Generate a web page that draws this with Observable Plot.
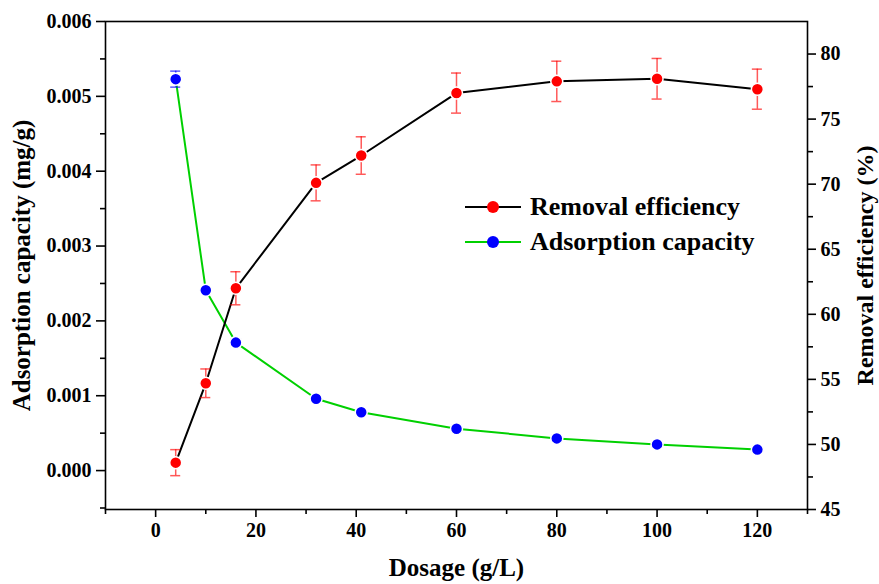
<!DOCTYPE html>
<html><head><meta charset="utf-8">
<script src="https://cdn.jsdelivr.net/npm/d3@7"></script>
<script src="https://cdn.jsdelivr.net/npm/@observablehq/plot@0.6"></script>
<style>
body{margin:0;background:#fff;}
#chart{position:relative;width:879px;height:584px;}
</style>
</head><body><div id="chart"></div>
<script>
// ---- data ----
const dosage = [4, 10, 16, 32, 41, 60, 80, 100, 120];
const adsorption = [0.00523, 0.00241, 0.00171, 0.00096, 0.00078, 0.00056, 0.00043, 0.00035, 0.00028];
const adsorptionErr = [0.000107, 0, 0, 0, 0, 0, 0, 0, 0];
const removal = [48.6, 54.7, 62.0, 70.1, 72.2, 77.0, 77.9, 78.1, 77.3];
const removalErr = [1.0, 1.1, 1.27, 1.38, 1.44, 1.54, 1.55, 1.56, 1.54];
const xTicks = [0, 20, 40, 60, 80, 100, 120];
const xMinor = [-10, 10, 30, 50, 70, 90, 110, 130];
const leftTicks = [0, 0.001, 0.002, 0.003, 0.004, 0.005, 0.006];
const leftMinor = [-0.0005, 0.0005, 0.0015, 0.0025, 0.0035, 0.0045, 0.0055];
const rightTicks = [45, 50, 55, 60, 65, 70, 75, 80];
const rightMinor = [47.5, 52.5, 57.5, 62.5, 67.5, 72.5, 77.5];
const seriesNames = ["Removal efficiency", "Adsorption capacity"];
const xLabel = "Dosage (g/L)";
const leftLabel = "Adsorption capacity (mg/g)";
const rightLabel = "Removal efficiency (%)";

// ---- scales ----
const Y0 = -0.00052, Y1 = 0.006, R0 = 45, R1 = 82.5;
const toLeft = r => Y0 + (r - R0) / (R1 - R0) * (Y1 - Y0);
const fromLeft = v => R0 + (v - Y0) / (Y1 - Y0) * (R1 - R0);

const ads = dosage.map((x, i) => ({x, y: adsorption[i], lo: adsorption[i] - adsorptionErr[i], hi: adsorption[i] + adsorptionErr[i]}));
const rem = dosage.map((x, i) => ({x, y: toLeft(removal[i]), lo: toLeft(removal[i] - removalErr[i]), hi: toLeft(removal[i] + removalErr[i])}));
const adsErr = ads.filter(d => d.hi > d.lo);

const RED = "#ff0000", BLUE = "#0000ff", GREEN = "#00d000";
const RED_ERR = "rgba(255,0,0,0.65)", BLUE_ERR = "rgba(0,0,255,0.65)";
const SW = 1.6;
const FONT = "Liberation Serif, Times New Roman, serif";

const chart = Plot.plot({
  width: 879, height: 584,
  marginTop: 21, marginBottom: 75, marginLeft: 105, marginRight: 72,
  style: {fontFamily: FONT, fontWeight: "bold", fontSize: "20px", background: "white", color: "black"},
  x: {domain: [-10, 130]},
  y: {domain: [Y0, Y1]},
  marks: [
    Plot.axisX(xTicks, {tickSize: 8, tickPadding: 5, fontSize: 20, strokeWidth: SW, label: null}),
    Plot.axisX(xMinor, {tickSize: 5, text: null, strokeWidth: SW, label: null}),
    Plot.axisY(leftTicks, {anchor: "left", tickSize: 9, tickPadding: 5, fontSize: 20, strokeWidth: SW, tickFormat: d3.format(".3f"), label: null}),
    Plot.axisY(leftMinor, {anchor: "left", tickSize: 5, text: null, strokeWidth: SW, label: null}),
    Plot.axisY(rightTicks.map(toLeft), {anchor: "right", tickSize: 8, tickPadding: 5, fontSize: 20, strokeWidth: SW, tickFormat: v => String(Math.round(fromLeft(v))), label: null}),
    Plot.axisY(rightMinor.map(toLeft), {anchor: "right", tickSize: 5, text: null, strokeWidth: SW, label: null}),
    Plot.frame({stroke: "black", strokeWidth: SW}),
    Plot.text([xLabel], {frameAnchor: "bottom", dy: 66, fontSize: 25, fontWeight: "bold", textAnchor: "middle"}),
    Plot.text([leftLabel], {frameAnchor: "left", dx: -84, rotate: -90, fontSize: 25, fontWeight: "bold", textAnchor: "middle"}),
    Plot.text([rightLabel], {frameAnchor: "right", dx: 58, rotate: -90, fontSize: 24, fontWeight: "bold", textAnchor: "middle"}),
    Plot.line(ads, {x: "x", y: "y", stroke: GREEN, strokeWidth: 2}),
    Plot.line(rem, {x: "x", y: "y", stroke: "black", strokeWidth: 2}),
    Plot.ruleX(rem, {x: "x", y1: "lo", y2: "hi", stroke: RED_ERR, strokeWidth: 1.5}),
    Plot.ruleY(rem, {y: "lo", x1: d => d.x - 1, x2: d => d.x + 1, stroke: RED_ERR, strokeWidth: 1.5}),
    Plot.ruleY(rem, {y: "hi", x1: d => d.x - 1, x2: d => d.x + 1, stroke: RED_ERR, strokeWidth: 1.5}),
    Plot.ruleX(adsErr, {x: "x", y1: "lo", y2: "hi", stroke: BLUE_ERR, strokeWidth: 1.5}),
    Plot.ruleY(adsErr, {y: "lo", x1: d => d.x - 1, x2: d => d.x + 1, stroke: BLUE_ERR, strokeWidth: 1.5}),
    Plot.ruleY(adsErr, {y: "hi", x1: d => d.x - 1, x2: d => d.x + 1, stroke: BLUE_ERR, strokeWidth: 1.5}),
    Plot.dot(ads, {x: "x", y: "y", r: 6, fill: BLUE, stroke: "white", strokeWidth: 1.5}),
    Plot.dot(rem, {x: "x", y: "y", r: 6, fill: RED, stroke: "white", strokeWidth: 1.5})
  ]
});
document.getElementById("chart").appendChild(chart);

// ---- legend (inside the plot area) ----
const svg = d3.select(chart);
const lg = svg.append("g")
  .attr("font-family", FONT).attr("font-weight", "bold").attr("font-size", 26)
  .attr("text-anchor", "start");
const legendItems = [
  {name: seriesNames[0], line: "black", dot: RED},
  {name: seriesNames[1], line: GREEN, dot: BLUE}
];
legendItems.forEach((it, i) => {
  const cy = 207 + i * 35;
  lg.append("line").attr("x1", 465).attr("x2", 521).attr("y1", cy).attr("y2", cy).attr("stroke", it.line).attr("stroke-width", 2);
  lg.append("circle").attr("cx", 493).attr("cy", cy).attr("r", 6).attr("fill", it.dot);
  lg.append("text").attr("x", 530).attr("y", cy).attr("dy", "0.32em").attr("fill", "black").attr("text-anchor", "start").text(it.name);
});
</script>
</body></html>
